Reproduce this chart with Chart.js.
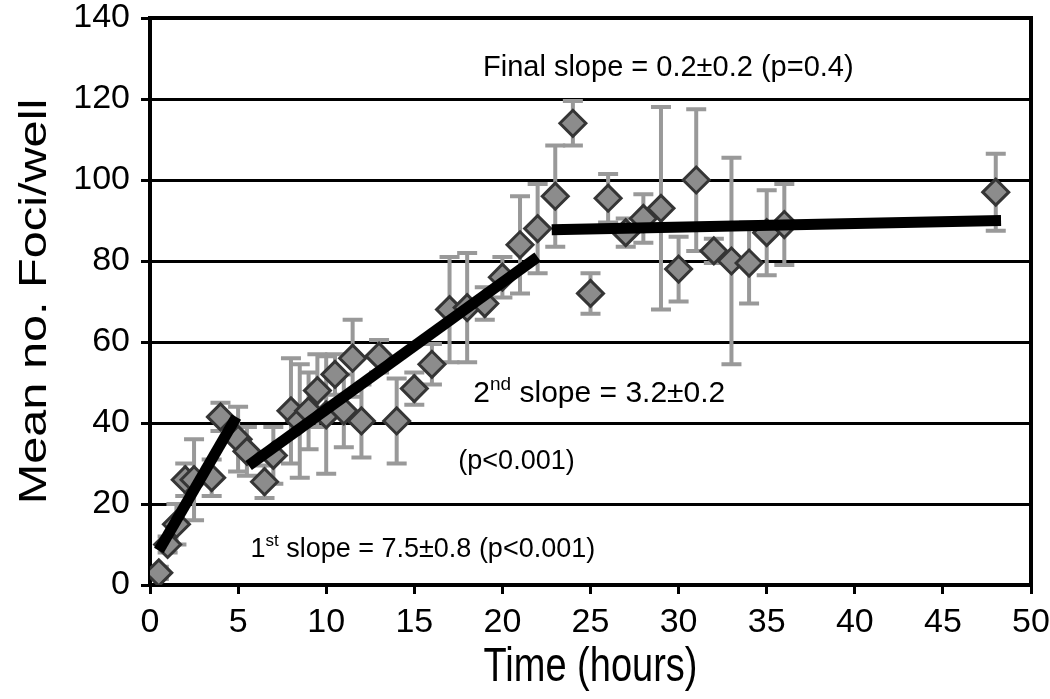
<!DOCTYPE html>
<html>
<head>
<meta charset="utf-8">
<script src="https://cdn.jsdelivr.net/npm/chart.js@4.4.0/dist/chart.umd.min.js"></script>
<style>
  html, body { margin: 0; padding: 0; background: #fff; }
  #wrap { width: 1050px; height: 699px; }
</style>
</head>
<body>
<div id="wrap"><canvas id="foci" width="1050" height="699"></canvas></div>
<script>
// measured time points (hours), mean foci per well and error
const hours = [0.5, 1, 1.5, 2, 2.5, 3.5, 4, 5, 5.5, 6.5, 7, 8, 8.5, 9, 9.5, 10, 10.5, 11, 11.5, 12,
  13, 14, 15, 16, 17, 18, 19, 20, 21, 22, 23, 24, 25, 26, 27, 28, 29, 30, 31, 32, 33, 34, 35, 36, 48];
const meanFoci = [3, 10, 15, 26, 26, 26.5, 41.5, 36, 33, 25.5, 32, 43, 40.5, 43, 48, 42, 52, 43, 56, 40.5,
  56.5, 40.5, 48.5, 54.5, 68, 68.5, 69.5, 76, 84, 88, 96, 114, 72, 95.5, 87, 90.5, 93, 78, 100, 82.5, 80, 79.5, 87, 89, 97];
const fociErr = [1.5, 2, 5, 4, 10, 4.5, 3.5, 8, 6, 4, 7, 13, 14, 9.5, 9, 14.5, 5, 9, 9.5, 9,
  4, 10.5, 4, 5, 13, 13.5, 4, 5, 12, 11, 12.5, 5.5, 5, 6, 3.5, 6, 25, 8, 17.5, 3, 25.5, 10, 10.5, 10, 9.5];

// fitted segments
const fitHoursA = [0.5, 4.9];
const fitFociA = [8.5, 41.5];
const fitHoursB = [5.6, 22];
const fitFociB = [29.5, 81];
const fitHoursC = [22.8, 48.3];
const fitFociC = [87.7, 90];

const xTicks = [0, 5, 10, 15, 20, 25, 30, 35, 40, 45, 50];
const yTicks = [0, 20, 40, 60, 80, 100, 120, 140];

const FONT = "'Liberation Sans', Arial, sans-serif";

function pairs(xs, ys) {
  return xs.map((x, i) => ({ x: x, y: ys[i] }));
}

function fitLine(xs, ys) {
  return {
    type: 'line',
    data: pairs(xs, ys),
    borderColor: '#000',
    borderWidth: 11,
    borderCapStyle: 'butt',
    pointRadius: 0,
    fill: false,
    order: 0
  };
}

const errorBars = {
  id: 'errorBars',
  beforeDatasetsDraw(chart) {
    const ctx = chart.ctx;
    const xs = chart.scales.x, ys = chart.scales.y;
    ctx.save();
    ctx.strokeStyle = '#999';
    ctx.lineWidth = 4;
    hours.forEach((h, i) => {
      const px = xs.getPixelForValue(h);
      const top = ys.getPixelForValue(meanFoci[i] + fociErr[i]);
      const bot = ys.getPixelForValue(meanFoci[i] - fociErr[i]);
      ctx.beginPath();
      ctx.moveTo(px, top); ctx.lineTo(px, bot);
      ctx.moveTo(px - 10, top); ctx.lineTo(px + 10, top);
      ctx.moveTo(px - 10, bot); ctx.lineTo(px + 10, bot);
      ctx.stroke();
    });
    // plot frame
    const a = chart.chartArea;
    ctx.strokeStyle = '#000';
    ctx.lineWidth = 4;
    ctx.strokeRect(a.left, a.top, a.right - a.left, a.bottom - a.top);
    ctx.restore();
  }
};

// annotation: [hour, value, size, parts]
const notes = [
  [18.9, 127.7, 29, [['Final slope = 0.2±0.2 (p=0.4)']]],
  [18.35, 47.2, 30, [['2'], ['nd', 1], [' slope = 3.2±0.2']]],
  [17.5, 30.4, 27, [['(p<0.001)']]],
  [5.7, 8.7, 27, [['1'], ['st', 1], [' slope = 7.5±0.8 (p<0.001)']]]
];

const slopeText = {
  id: 'slopeText',
  afterDatasetsDraw(chart) {
    const ctx = chart.ctx;
    const xs = chart.scales.x, ys = chart.scales.y;
    ctx.save();
    ctx.fillStyle = '#000';
    ctx.textBaseline = 'middle';
    ctx.textAlign = 'left';
    notes.forEach(n => {
      let px = xs.getPixelForValue(n[0]);
      const py = ys.getPixelForValue(n[1]);
      n[3].forEach(p => {
        const sz = p[1] ? Math.round(n[2] * 0.62) : n[2];
        ctx.font = sz + 'px ' + FONT;
        ctx.fillText(p[0], px, p[1] ? py - n[2] * 0.3 : py);
        px += ctx.measureText(p[0]).width;
      });
    });
    ctx.restore();
  }
};

// axis titles, drawn a bit taller than wide like the original figure
const axisTitles = {
  id: 'axisTitles',
  afterDraw(chart) {
    const ctx = chart.ctx;
    const a = chart.chartArea;
    ctx.save();
    ctx.fillStyle = '#000';
    ctx.font = '38px ' + FONT;
    ctx.textAlign = 'center';
    ctx.textBaseline = 'middle';

    ctx.save();
    ctx.translate((a.left + a.right) / 2, 668);
    ctx.scale(1, 1.28);
    ctx.fillText('Time (hours)', 0, 0);
    ctx.restore();

    ctx.save();
    ctx.translate(36, (a.top + a.bottom) / 2);
    ctx.rotate(-Math.PI / 2);
    ctx.scale(1.28, 1);
    ctx.fillText('Mean no. Foci/well', 0, 0);
    ctx.restore();

    ctx.restore();
  }
};

new Chart(document.getElementById('foci'), {
  type: 'scatter',
  data: {
    datasets: [
      {
        data: pairs(hours, meanFoci),
        pointStyle: 'rectRot',
        pointRadius: 13,
        backgroundColor: '#8c8c8c',
        borderColor: '#353535',
        borderWidth: 3,
        order: 1
      },
      fitLine(fitHoursA, fitFociA),
      fitLine(fitHoursB, fitFociB),
      fitLine(fitHoursC, fitFociC)
    ]
  },
  options: {
    responsive: false,
    animation: false,
    devicePixelRatio: 1,
    layout: { padding: { top: 18, right: 19, left: 0, bottom: 0 } },
    plugins: { legend: { display: false }, tooltip: { enabled: false } },
    scales: {
      x: {
        type: 'linear',
        min: 0, max: 50,
        afterBuildTicks: axis => { axis.ticks = xTicks.map(v => ({ value: v })); },
        afterFit: axis => { axis.height = 114; axis.paddingLeft = 0; axis.paddingRight = 0; },
        ticks: { color: '#000', font: { family: FONT, size: 34 }, padding: 8 },
        grid: { drawOnChartArea: false, tickColor: '#000', tickLength: 9, lineWidth: 3 },
        border: { display: true, color: '#000', width: 4 }
      },
      y: {
        min: 0, max: 140,
        afterBuildTicks: axis => { axis.ticks = yTicks.map(v => ({ value: v })); },
        afterFit: axis => { axis.width = 150; axis.paddingTop = 0; axis.paddingBottom = 0; },
        ticks: { color: '#000', font: { family: FONT, size: 34 }, padding: 11 },
        grid: { color: '#000', tickColor: '#000', lineWidth: 3, tickLength: 9 },
        border: { display: true, color: '#000', width: 4 }
      }
    }
  },
  plugins: [errorBars, slopeText, axisTitles]
});
</script>
</body>
</html>
